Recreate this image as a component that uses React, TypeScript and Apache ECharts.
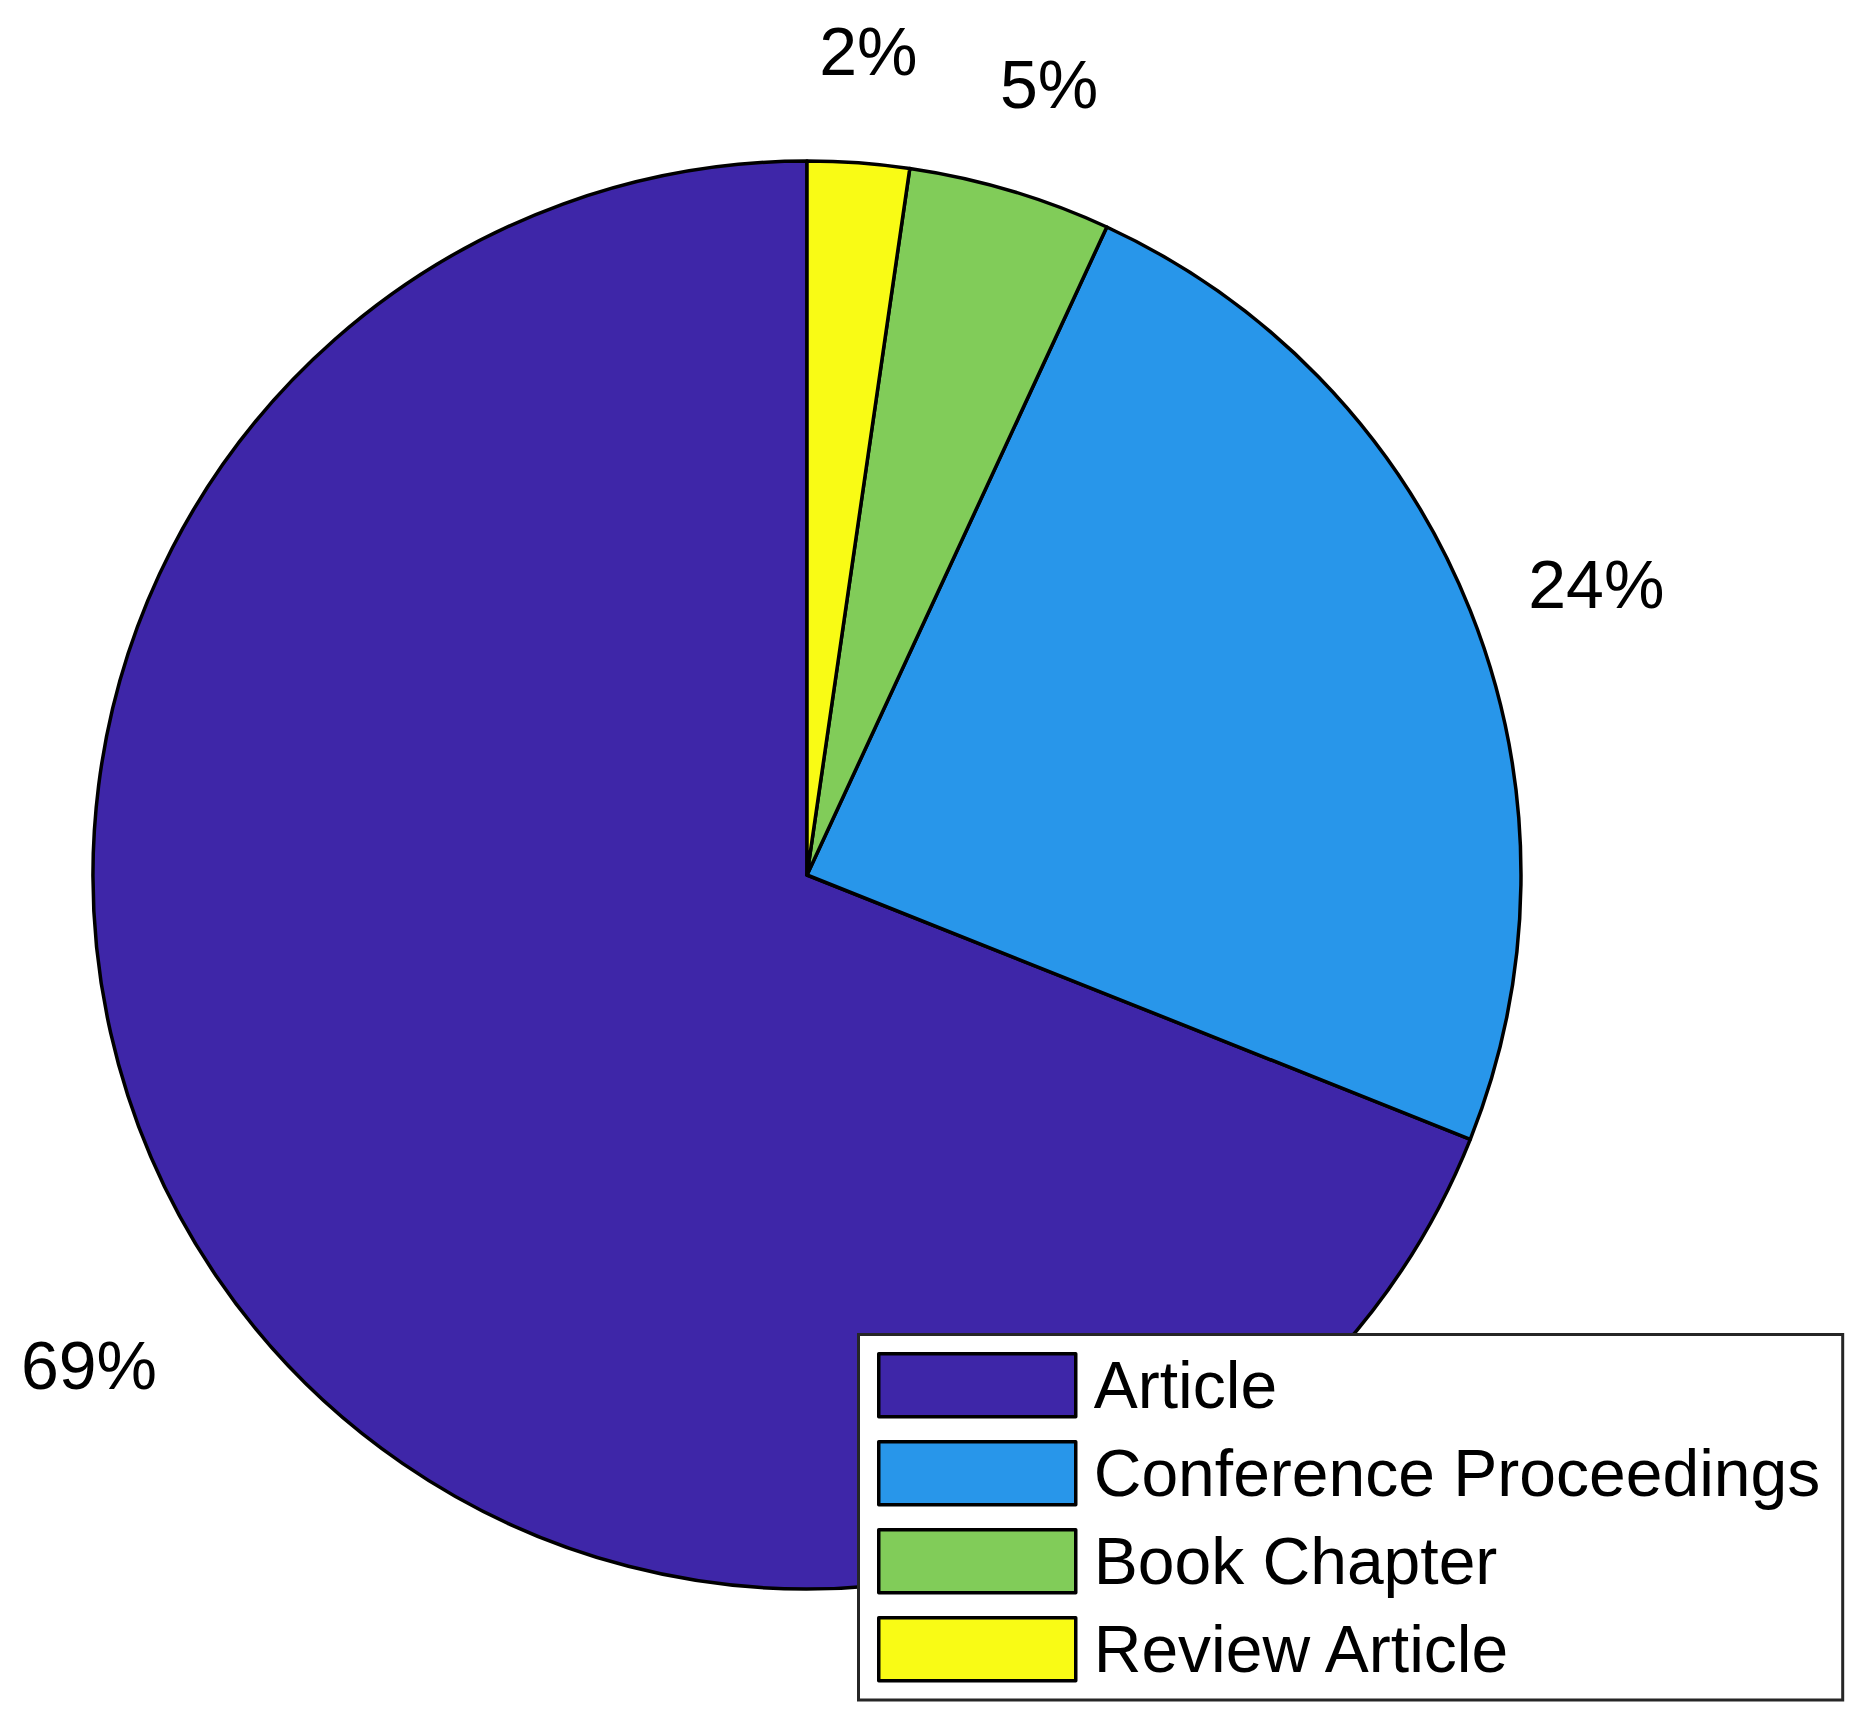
import React, { useEffect, useRef } from "react";
import * as echarts from "echarts";

// ---- data ----
const categories = ["Article", "Conference Proceedings", "Book Chapter", "Review Article"];
const counts = [300, 105, 20, 10];
const colors = ["#3E26A8", "#2896EA", "#81CC59", "#F9FB15"];

// ---- layout ----
const W = 1868;
const H = 1728;
const CX = 807;
const CY = 875;
const R = 714;
const FONT = "'Liberation Sans', Arial, Helvetica, sans-serif";

export default function App() {
  const ref = useRef<HTMLDivElement>(null);

  useEffect(() => {
    if (!ref.current) return;
    const chart = echarts.init(ref.current, null, { renderer: "svg", width: W, height: H });
    const total = counts.reduce((a, b) => a + b, 0);

    const labelLayout = (params: any) => {
      let dx: number | undefined;
      let dy: number | undefined;
      const pts = params.labelLinePoints;
      if (pts && pts.length && pts[0]) {
        const vx = pts[0][0] - CX;
        const vy = pts[0][1] - CY;
        const len = Math.hypot(vx, vy);
        if (len > 1) {
          dx = vx / len;
          dy = vy / len;
        }
      }
      if (dx === undefined || dy === undefined) {
        let cum = 0;
        for (let i = 0; i < params.dataIndex; i++) cum += counts[i];
        const ang = ((90 + (360 * (cum + counts[params.dataIndex] / 2)) / total) * Math.PI) / 180;
        dx = Math.cos(ang);
        dy = -Math.sin(ang);
      }
      const upper = dy < 0;
      const dist = R * (upper ? 1.19 : 1.215);
      return {
        x: CX + dx * dist,
        y: CY + dy * dist + R * (upper ? 0.033 : 0.005),
        align: "center",
        verticalAlign: "middle",
      };
    };

    chart.setOption({
      animation: false,
      backgroundColor: "#ffffff",
      legend: {
        orient: "vertical",
        left: 858.5,
        top: 1334.5,
        icon: "rect",
        itemWidth: 197,
        itemHeight: 63,
        itemGap: 2,
        padding: [7.75, 22.5, 7.75, 18.5],
        backgroundColor: "#ffffff",
        borderColor: "#262626",
        borderWidth: 3,
        borderRadius: 0,
        selectedMode: false,
        itemStyle: { borderColor: "#000000", borderWidth: 3.5 },
        textStyle: {
          fontFamily: FONT,
          fontSize: 66,
          color: "#000000",
          lineHeight: 66,
          padding: [20, 0, 0, 13],
        },
        data: categories,
      },
      series: [
        {
          type: "pie",
          center: [CX, CY],
          radius: [0, R],
          startAngle: 90,
          clockwise: false,
          avoidLabelOverlap: false,
          silent: true,
          itemStyle: { borderColor: "#000000", borderWidth: 3.5 },
          label: {
            show: true,
            position: "outside",
            formatter: (p: any) => Math.round(p.percent) + "%",
            fontFamily: FONT,
            fontSize: 68,
            color: "#000000",
          },
          labelLine: { show: false, length: 0, length2: 0 },
          labelLayout,
          emphasis: { disabled: true },
          data: categories.map((c, i) => ({
            name: c,
            value: counts[i],
            itemStyle: { color: colors[i] },
          })),
        },
      ],
    });

    return () => {
      chart.dispose();
    };
  }, []);

  return (
    <div
      ref={ref}
      style={{ position: "absolute", left: 0, top: 0, width: W, height: H, background: "#ffffff" }}
    />
  );
}
